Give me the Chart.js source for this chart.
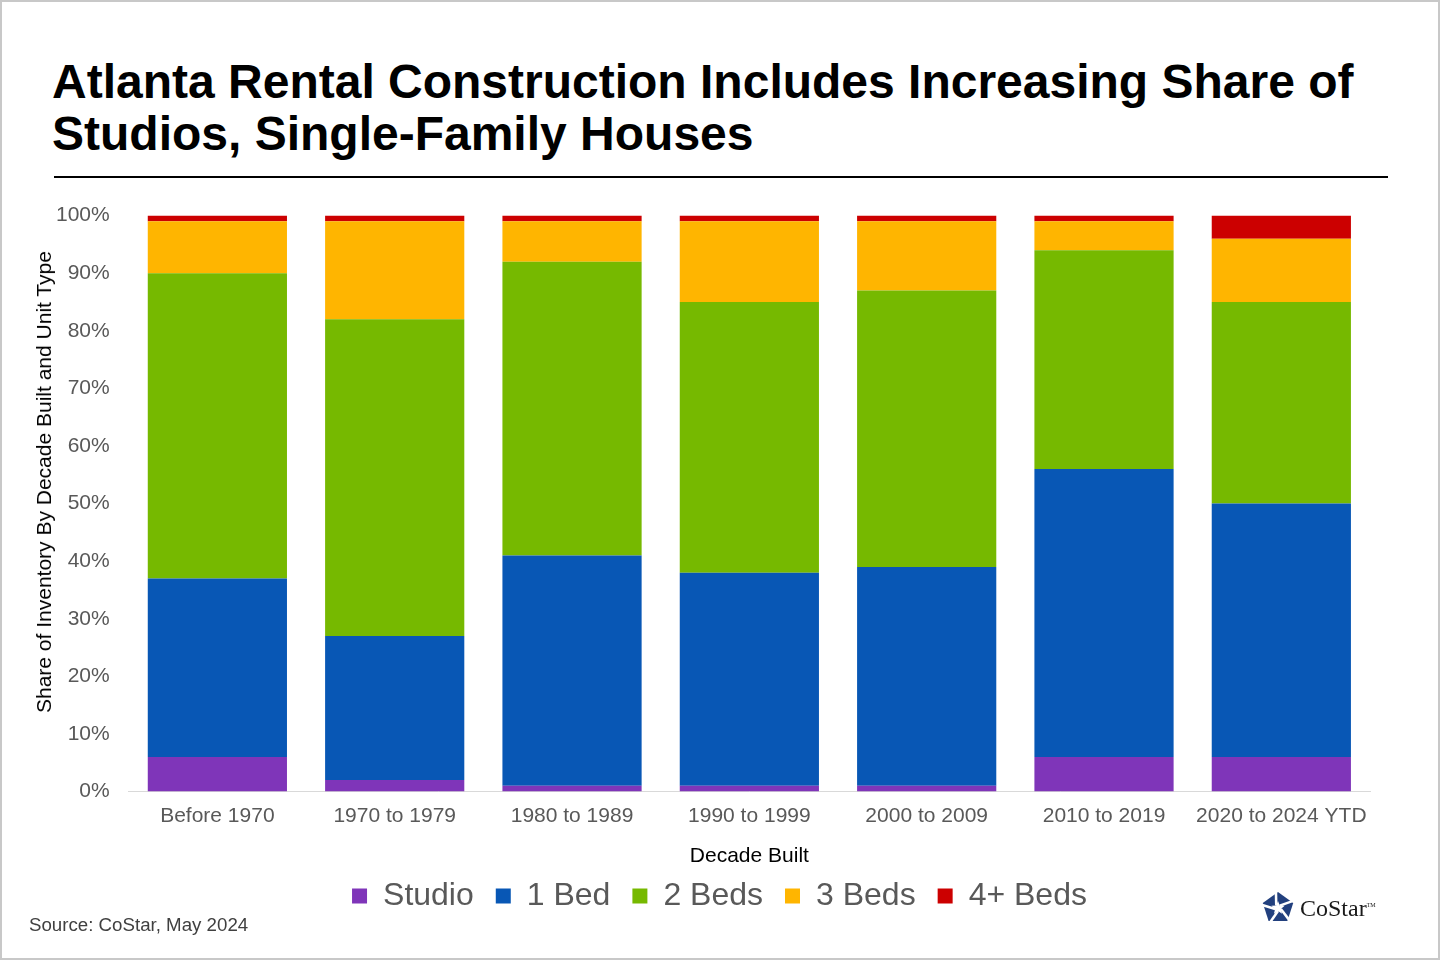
<!DOCTYPE html>
<html>
<head>
<meta charset="utf-8">
<script src="https://cdn.jsdelivr.net/npm/chart.js@4.4.1/dist/chart.umd.min.js"></script>
<style>
  html, body { margin: 0; padding: 0; background: #fff; }
  #page {
    position: relative; width: 1440px; height: 960px; overflow: hidden;
    box-sizing: border-box; border: 2px solid #c8c8c8; background: #fff;
    font-family: "Liberation Sans", Arial, sans-serif;
  }
  #titulo {
    position: absolute; left: 50px; top: 54px; margin: 0;
    font-size: 48px; font-weight: bold; line-height: 52px; color: #000;
  }
  #regla { position: absolute; left: 52px; top: 174px; width: 1334px; height: 2px; background: #000; }
  #grafica-caja { position: absolute; left: 0; top: 182px; width: 1440px; height: 738px; }
  #titulo-y {
    position: absolute; left: 42px; top: 480px; white-space: nowrap;
    transform: translate(-50%, -50%) rotate(-90deg);
    font-size: 21px; color: #000;
  }
  #fuente { position: absolute; left: 27px; top: 912px; font-size: 18.7px; color: #404040; }
  #logo { position: absolute; left: 1258px; top: 888px; display: flex; align-items: center; }
  #logo span { font-family: "Liberation Serif", "DejaVu Serif", serif; font-size: 24px; color: #1a1a1a; margin-left: 4px; }
  #logo sup { font-size: 6px; }
</style>
</head>
<body>
<div id="page">
  <h1 id="titulo">Atlanta Rental Construction Includes Increasing Share of<br>Studios, Single-Family Houses</h1>
  <div id="regla"></div>
  <div id="grafica-caja"><canvas id="unidades-grafica"></canvas></div>
  <div id="titulo-y">Share of Inventory By Decade Built and Unit Type</div>
  <div id="fuente">Source: CoStar, May 2024</div>
  <div id="logo">
    <svg id="logo-icono" width="36" height="36" viewBox="-18 -18 36 36"></svg>
    <span>CoStar<sup>TM</sup></span>
  </div>
</div>
<script>
const decadas = ['Before 1970', '1970 to 1979', '1980 to 1989', '1990 to 1999', '2000 to 2009', '2010 to 2019', '2020 to 2024 YTD'];
const estudio = [6, 2, 1, 1, 1, 6, 6];
const unaHab = [31, 25, 40, 37, 38, 50, 44];
const dosHab = [53, 55, 51, 47, 48, 38, 35];
const tresHab = [9, 17, 7, 14, 12, 5, 11];
const cuatroMas = [1, 1, 1, 1, 1, 1, 4];
const ticksY = [0, 10, 20, 30, 40, 50, 60, 70, 80, 90, 100];

(() => {
    // icono del logo: pentagono con estrella blanca
    const svg = document.getElementById('logo-icono');
    const ns = 'http://www.w3.org/2000/svg';
    const pt = (r, a) => `${(r * Math.cos(a)).toFixed(2)},${(r * Math.sin(a)).toFixed(2)}`;
    const base = -Math.PI / 2;
    let penta = [];
    let estrella = [];
    for (let i = 0; i < 5; i++) {
        penta.push(pt(16, base + i * 2 * Math.PI / 5));
        estrella.push(pt(7, base + i * 2 * Math.PI / 5));
        estrella.push(pt(3, base + (i + 0.5) * 2 * Math.PI / 5));
    }
    const p = document.createElementNS(ns, 'polygon');
    p.setAttribute('points', penta.join(' '));
    p.setAttribute('fill', '#22407e');
    svg.appendChild(p);
    for (let i = 0; i < 5; i++) {
        const l = document.createElementNS(ns, 'line');
        const a = base + (i + 0.5) * 2 * Math.PI / 5;
        const [x1, y1] = pt(3, a).split(',');
        const [x2, y2] = pt(16, a + 0.5).split(',');
        l.setAttribute('x1', x1); l.setAttribute('y1', y1);
        l.setAttribute('x2', x2); l.setAttribute('y2', y2);
        l.setAttribute('stroke', '#fff'); l.setAttribute('stroke-width', '2.5');
        svg.appendChild(l);
    }
    const s = document.createElementNS(ns, 'polygon');
    s.setAttribute('points', estrella.join(' '));
    s.setAttribute('fill', '#fff');
    svg.appendChild(s);

    const ctx = document.getElementById('unidades-grafica').getContext('2d');
    const fuente = '"Liberation Sans", Arial, sans-serif';
    const grafica = new Chart(ctx, {
        type: 'bar',
        data: {
            labels: decadas,
            datasets: [
                { label: 'Studio', data: estudio, backgroundColor: '#7f35b9' },
                { label: '1 Bed', data: unaHab, backgroundColor: '#0857b5' },
                { label: '2 Beds', data: dosHab, backgroundColor: '#76b900' },
                { label: '3 Beds', data: tresHab, backgroundColor: '#ffb500' },
                { label: '4+ Beds', data: cuatroMas, backgroundColor: '#cc0000' }
            ]
        },
        options: {
            responsive: true,
            maintainAspectRatio: false,
            animation: false,
            datasets: {
                bar: { categoryPercentage: 1, barPercentage: 0.785, borderWidth: 0 }
            },
            layout: { padding: { left: 35, right: 72, top: 11, bottom: 0 } },
            scales: {
                x: {
                    stacked: true,
                    grid: { display: false, drawTicks: false },
                    border: { display: true, color: '#d9d9d9', width: 1 },
                    ticks: { color: '#595959', font: { family: fuente, size: 21 }, padding: 12, maxRotation: 0, autoSkip: false },
                    title: { display: true, text: 'Decade Built', color: '#000', font: { family: fuente, size: 21 }, padding: { top: 3, bottom: -11 } }
                },
                y: {
                    stacked: true,
                    min: 0,
                    max: 100,
                    afterBuildTicks: (eje) => { eje.ticks = ticksY.map(v => ({ value: v })); },
                    grid: { display: false, drawTicks: false },
                    border: { display: false },
                    ticks: { color: '#595959', font: { family: fuente, size: 21 }, padding: 19, callback: v => v + '%' }
                }
            },
            plugins: {
                legend: {
                    position: 'bottom',
                    labels: { color: '#595959', font: { family: fuente, size: 32 }, boxWidth: 15, boxHeight: 15, padding: 22 }
                },
                tooltip: { enabled: false }
            }
        },
        plugins: [{
            // la leyenda del original esta algo a la derecha del centro
            id: 'moverLeyenda',
            afterLayout(chart) {
                chart.legend.left += 16;
                chart.legend.right += 16;
            }
        }]
    });
})()
</script>
</body>
</html>
